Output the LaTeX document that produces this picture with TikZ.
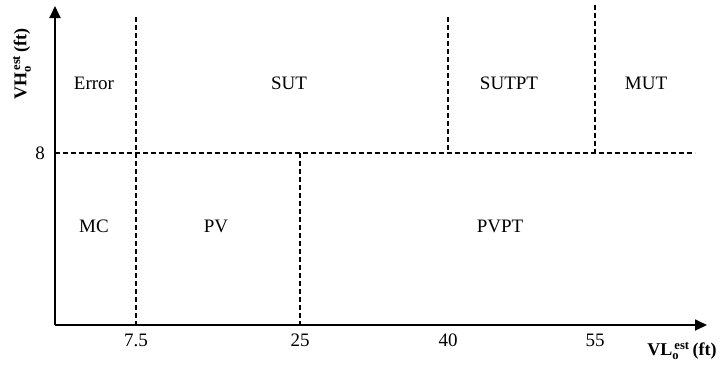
\documentclass[tikz,border=0pt]{standalone}
\usepackage{fontspec}
\setmainfont{Liberation Serif}
\usetikzlibrary{arrows.meta}
\begin{document}
\begin{tikzpicture}[x=1pt,y=-1pt,
  lab/.style={font=\fontsize{19}{21}\selectfont, inner sep=0pt},
  blab/.style={font=\fontsize{18}{20}\selectfont\bfseries, inner sep=0pt},
  axis/.style={line width=1.8pt, -{Triangle[length=12pt,width=11pt]}},
  dline/.style={line width=1.1pt, dash pattern=on 5pt off 3pt}]
\useasboundingbox (0,0) rectangle (721,365);
\coordinate (O) at (55,325);
\coordinate (xend) at (707,325);
\coordinate (yend) at (55,6);
\draw[axis] (O) -- (xend);
\draw[axis] (O) -- (yend);
% dashed lines
\coordinate (h1) at (55,153);
\coordinate (h2) at (695,153);
\draw[dline] (h1) -- (h2);
\coordinate (a1) at (136,17); \coordinate (a2) at (136,325);
\draw[dline] (a1) -- (a2);
\coordinate (b1) at (300,153); \coordinate (b2) at (300,325);
\draw[dline] (b1) -- (b2);
\coordinate (c1) at (448,17); \coordinate (c2) at (448,153);
\draw[dline] (c1) -- (c2);
\coordinate (d1) at (595,5); \coordinate (d2) at (595,153);
\draw[dline] (d1) -- (d2);
% region labels
\node[lab] (err) at (94,83) {Error};
\node[lab] (sut) at (289,83) {SUT};
\node[lab] (sutpt) at (509,83) {SUTPT};
\node[lab] (mut) at (646,83) {MUT};
\node[lab] (mc) at (94,226) {MC};
\node[lab] (pv) at (216,226) {PV};
\node[lab] (pvpt) at (500,226) {PVPT};
% tick labels
\node[lab] (t1) at (136,340) {7.5};
\node[lab] (t2) at (300,340) {25};
\node[lab] (t3) at (448,340) {40};
\node[lab] (t4) at (595,340) {55};
\node[lab] (t8) at (40,153) {8};
% axis titles
\node[blab] (xl) at (682,351) {VL$_{\mathbf{o}}^{\,\mathbf{est}}$\,(ft)};
\node[blab, rotate=90] (yl) at (22,64) {VH$_{\mathbf{o}}^{\,\mathbf{est}}$\,(ft)};
\end{tikzpicture}
\end{document}
